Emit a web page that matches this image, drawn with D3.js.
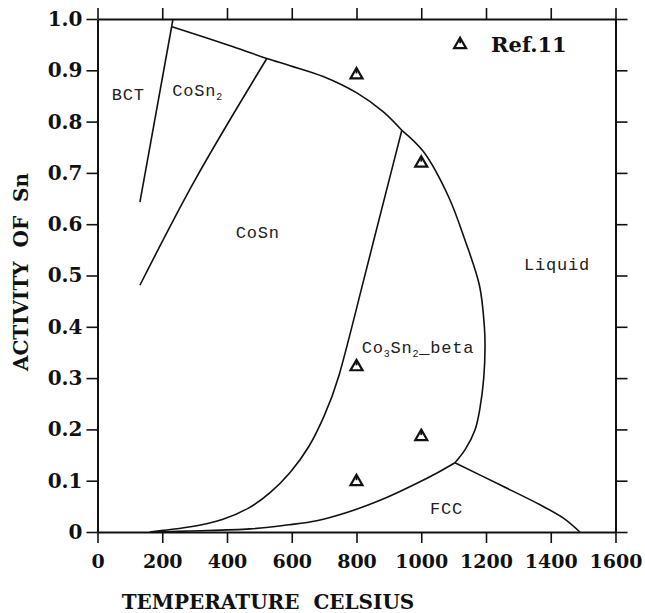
<!DOCTYPE html>
<html>
<head>
<meta charset="utf-8">
<script src="https://cdn.jsdelivr.net/npm/d3@7"></script>
<style>
  body { margin: 0; background: #fff; }
  .axis path, .axis line { stroke: #111; }
  .axis text { font-family: "DejaVu Serif", serif; font-weight: bold; fill: #111; }
  .region { font-family: "Liberation Mono", monospace; font-size: 17px; fill: #222; letter-spacing: 0.8px; }
</style>
</head>
<body>
<div class="phase-chart"></div>
<script>
// temperature ticks (Celsius) and activity ticks
const xTicks = [0, 200, 400, 600, 800, 1000, 1200, 1400, 1600];
const yTicks = [0, 0.1, 0.2, 0.3, 0.4, 0.5, 0.6, 0.7, 0.8, 0.9, 1.0];

// phase boundaries, [temperature, activity]
const bctCoSn2 = [[131, 0.643], [233, 0.999]];
const coSn2CoSn = [[131, 0.481], [301, 0.686], [523, 0.923]];
const liquidusUpper = [[230, 0.985], [419, 0.946], [523, 0.923], [595, 0.909], [697, 0.888], [801, 0.856],
    [883, 0.819], [940, 0.783]];
const liquidusLower = [[940, 0.783], [1006, 0.742], [1084, 0.654], [1135, 0.569], [1180, 0.48], [1195, 0.40],
    [1197, 0.36], [1193, 0.30], [1181, 0.24], [1166, 0.199], [1135, 0.160], [1104, 0.135]];
const coSnCo3Sn2 = [[940, 0.783], [806, 0.452], [743, 0.290], [700, 0.225], [656, 0.166], [595, 0.114],
    [533, 0.075], [471, 0.046], [389, 0.023], [286, 0.009], [193, 0.0025], [162, 0]];
const co3Sn2Fcc = [[1104, 0.135], [1037, 0.111], [934, 0.079], [873, 0.062], [770, 0.038], [677, 0.022],
    [590, 0.014], [471, 0.006], [286, 0.002], [180, 0]];
const liquidFcc = [[1104, 0.135], [1243, 0.092], [1367, 0.053], [1439, 0.027], [1490, 0]];

// Ref.11 measurements
const refPoints = [[800, 0.891], [1000, 0.719], [800, 0.322], [1000, 0.186], [800, 0.098]];
const legendPoint = [1120, 0.95];

// phase field labels: text parts, [temperature, activity] of start/baseline
const regionLabels = [
    { parts: [["BCT", false]], at: [44, 0.842] },
    { parts: [["CoSn", false], ["2", true]], at: [231, 0.849] },
    { parts: [["CoSn", false]], at: [427, 0.573] },
    { parts: [["Liquid", false]], at: [1317, 0.511] },
    { parts: [["Co", false], ["3", true], ["Sn", false], ["2", true], ["_beta", false]], at: [816, 0.349] },
    { parts: [["FCC", false]], at: [1027, 0.035] }
];

const margin = { top: 19, right: 29.5, bottom: 81, left: 97.5 };
const width = 645 - margin.left - margin.right;
const height = 613 - margin.top - margin.bottom;

const svg = d3.select(".phase-chart")
    .append("svg")
    .attr("width", 645)
    .attr("height", 613)
    .style("display", "block");

const g = svg.append("g")
    .attr("transform", "translate(" + margin.left + "," + margin.top + ")");

const x = d3.scaleLinear().domain([0, 1600]).range([0, width]);
const y = d3.scaleLinear().domain([0, 1]).range([height, 0]);

const yFmt = d => d === 0 ? "0" : d3.format(".1f")(d);

// frame: ticks point outward on every side
g.append("g").attr("class", "axis")
    .attr("transform", "translate(0," + height + ")")
    .call(d3.axisBottom(x).tickValues(xTicks).tickSize(11).tickSizeOuter(0).tickPadding(12).tickFormat(d3.format("d")))
    .call(a => a.selectAll("text").style("font-size", "19px"));

g.append("g").attr("class", "axis")
    .call(d3.axisTop(x).tickValues(xTicks).tickSize(11).tickSizeOuter(0).tickFormat(""));

g.append("g").attr("class", "axis")
    .call(d3.axisLeft(y).tickValues(yTicks).tickSize(11).tickSizeOuter(0).tickPadding(4).tickFormat(yFmt))
    .call(a => a.selectAll("text").style("font-size", "20px"));

g.append("g").attr("class", "axis")
    .attr("transform", "translate(" + width + ",0)")
    .call(d3.axisRight(y).tickValues(yTicks).tickSize(12).tickSizeOuter(0).tickFormat(""));

g.selectAll(".axis path").attr("stroke-width", 2);
g.selectAll(".axis line").attr("stroke-width", 1.6);

// boundaries
const line = d3.line()
    .x(d => x(d[0]))
    .y(d => y(d[1]))
    .curve(d3.curveCatmullRom.alpha(0.5));
const smoothLine = d3.line()
    .x(d => x(d[0]))
    .y(d => y(d[1]))
    .curve(d3.curveBasis);

[bctCoSn2, coSn2CoSn, liquidusUpper, liquidusLower, co3Sn2Fcc, liquidFcc].forEach(b => {
    g.append("path")
        .datum(b)
        .attr("fill", "none")
        .attr("stroke", "#111")
        .attr("stroke-width", 1.6)
        .attr("d", line);
});

g.append("path")
    .datum(coSnCo3Sn2)
    .attr("fill", "none")
    .attr("stroke", "#111")
    .attr("stroke-width", 1.6)
    .attr("d", smoothLine);

// triangle markers
const tri = d3.symbol(d3.symbolTriangle, 62);
const drawMarker = (sel) => {
    sel.append("path").attr("d", tri).attr("fill", "none")
        .attr("stroke", "#111").attr("stroke-width", 2.2).attr("stroke-linejoin", "miter");
    sel.append("line").attr("x1", 0).attr("x2", 0).attr("y1", -5).attr("y2", -1.5)
        .attr("stroke", "#111").attr("stroke-width", 1.8);
};

g.selectAll(".ref")
    .data(refPoints)
    .enter()
    .append("g")
    .attr("class", "ref")
    .attr("transform", d => "translate(" + x(d[0]) + "," + y(d[1]) + ")")
    .call(drawMarker);

const legend = g.append("g")
    .attr("transform", "translate(" + x(legendPoint[0]) + "," + y(legendPoint[1]) + ")");
legend.call(drawMarker);
legend.append("text")
    .attr("x", 31)
    .attr("y", 7)
    .style("font-family", "'DejaVu Serif', serif")
    .style("font-weight", "bold")
    .style("font-size", "21px")
    .attr("fill", "#111")
    .text("Ref.11");

// phase labels
regionLabels.forEach(l => {
    const t = g.append("text")
        .attr("class", "region")
        .attr("x", x(l.at[0]))
        .attr("y", y(l.at[1]));
    let shifted = false;
    l.parts.forEach(p => {
        const s = t.append("tspan").text(p[0]);
        if (p[1]) {
            s.attr("dy", 4).style("font-size", "10px");
            shifted = true;
        } else if (shifted) {
            s.attr("dy", -4);
            shifted = false;
        }
    });
});

// axis titles
svg.append("text")
    .attr("x", 268)
    .attr("y", 609)
    .attr("text-anchor", "middle")
    .style("font-family", "'DejaVu Serif', serif")
    .style("font-weight", "bold")
    .style("font-size", "20px")
    .attr("fill", "#111")
    .text("TEMPERATURE\u00a0\u00a0CELSIUS");

svg.append("text")
    .attr("transform", "translate(28," + 272 + ") rotate(-90)")
    .attr("text-anchor", "middle")
    .style("font-family", "'DejaVu Serif', serif")
    .style("font-weight", "bold")
    .style("font-size", "20px")
    .attr("fill", "#111")
    .text("ACTIVITY\u00a0\u00a0OF\u00a0\u00a0Sn");
</script>
</body>
</html>
